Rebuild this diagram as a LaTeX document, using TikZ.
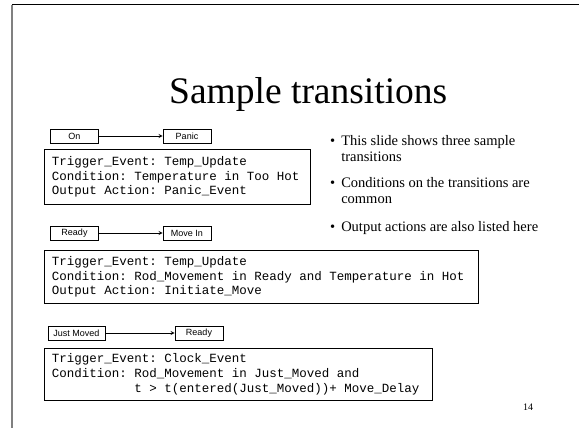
\documentclass[tikz,border=0pt]{standalone}
\usepackage{fontspec}
\setmainfont{Liberation Serif}
\setsansfont{Liberation Sans}
\setmonofont{Liberation Mono}
\newcommand{\codefont}{\ttfamily\fontsize{12.5}{14.8}\selectfont\frenchspacing}
\begin{document}
\begin{tikzpicture}[x=1pt, y=-1pt, >=stealth,
    statebox/.style={draw, line width=0.8pt, minimum width=48pt, minimum height=14pt, inner sep=0pt, font=\sffamily\fontsize{9}{10}\selectfont},
    codebox/.style={draw, line width=0.8pt, anchor=north west, inner xsep=8pt, inner ysep=0pt, minimum height=53pt, align=flush left, font=\codefont},
    pointtext/.style={anchor=north west, inner sep=0pt, font=\fontsize{14.5}{16.5}\selectfont}]
\useasboundingbox (0,0) rectangle (579,428);
% slide frame
\draw[line width=1pt] (12,5) -- (579,5);
\draw[gray, line width=1.3pt] (12,5) -- (12,428);

\node[anchor=base west, inner sep=0pt, font=\fontsize{37.5}{42}\selectfont] (title) at (169,103) {Sample transitions};

% first transition
\node[statebox] (on) at (74.5,136) {On};
\node[statebox] (panic) at (187,136) {Panic};
\draw[->, line width=0.8pt] (on) -- (panic);
\node[codebox, text width=250.5pt, minimum height=55pt] (cond1) at (43.5,149)
    {Trigger\_Event: Temp\_Update\\Condition: Temperature in Too Hot\\Output Action: Panic\_Event};

% second transition
\node[statebox] (ready) at (74.5,233) {Ready};
\node[statebox] (movein) at (187,233) {Move In};
\draw[->, line width=0.8pt] (ready) -- (movein);
\node[codebox, text width=418.5pt] (cond2) at (43.5,250)
    {Trigger\_Event: Temp\_Update\\Condition: Rod\_Movement in Ready and Temperature in Hot\\Output Action: Initiate\_Move};

% third transition
\node[statebox, minimum width=57pt] (moved) at (76.5,333) {Just Moved};
\node[statebox] (ready2) at (199,333) {Ready};
\draw[->, line width=0.8pt] (moved) -- (ready2);
\node[codebox, text width=372.5pt, minimum height=52pt] (cond3) at (43.5,348)
    {Trigger\_Event: Clock\_Event\\Condition: Rod\_Movement in Just\_Moved and\\\phantom{Condition:~}t > t(entered(Just\_Moved))+ Move\_Delay};

% bullet points
\node[pointtext] (p1) at (330,133.5) {\begin{tabular}{@{}l@{\hspace{6pt}}l@{}}•&This slide shows three sample\\&transitions\end{tabular}};
\node[pointtext] (p2) at (330,175.5) {\begin{tabular}{@{}l@{\hspace{6pt}}l@{}}•&Conditions on the transitions are\\&common\end{tabular}};
\node[pointtext] (p3) at (330,219.5) {\begin{tabular}{@{}l@{\hspace{6pt}}l@{}}•&Output actions are also listed here\end{tabular}};

\node[font=\fontsize{10}{12}\selectfont] (page) at (528,407) {14};
\end{tikzpicture}
\end{document}
